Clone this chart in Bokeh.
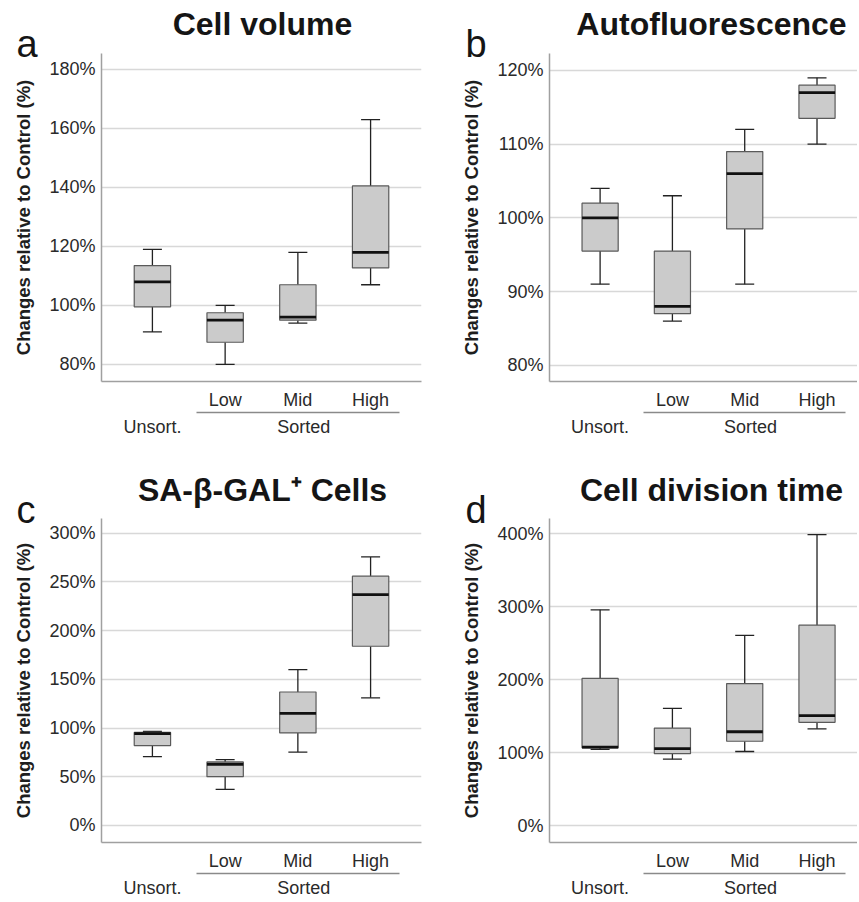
from bokeh.plotting import figure
from bokeh.layouts import column, row
from bokeh.models import (FixedTicker, LinearAxis, PrintfTickFormatter, Label,
                          Range1d, ColumnDataSource)
from bokeh.embed import file_html
from bokeh.resources import INLINE

# ---------------- data ----------------
categories = ["Unsort.", "Low", "Mid", "High"]
group_labels = ["Unsort.", "Sorted"]
group_centers = [1, 3.08]

panel_letters = ["a", "b", "c", "d"]
panel_titles = ["Cell volume", "Autofluorescence",
                "SA-\u03b2-GAL\u207a Cells", "Cell division time"]
y_title = "Changes relative to Control (%)"

# Cell volume (%)
vol_lo = [91, 80, 94, 107]
vol_q1 = [99.5, 87.5, 95, 112.7]
vol_med = [108, 95, 96, 118]
vol_q3 = [113.5, 97.5, 107, 140.5]
vol_hi = [119, 100, 118, 163]
vol_ticks = [80, 100, 120, 140, 160, 180]

# Autofluorescence (%)
af_lo = [91, 86, 91, 110]
af_q1 = [95.5, 87, 98.5, 113.5]
af_med = [100, 88, 106, 117]
af_q3 = [102, 95.5, 109, 118]
af_hi = [104, 103, 112, 119]
af_ticks = [80, 90, 100, 110, 120]

# SA-beta-GAL+ cells (%)
sa_lo = [70.6, 37, 75.3, 131]
sa_q1 = [82, 50, 95, 184]
sa_med = [94.3, 62.8, 115, 237]
sa_q3 = [95.5, 65.2, 137, 256]
sa_hi = [96.5, 67.6, 160, 275.7]
sa_ticks = [0, 50, 100, 150, 200, 250, 300]

# Cell division time (%)
dt_lo = [105, 91.5, 102, 133]
dt_q1 = [107, 99, 116, 142]
dt_med = [108, 106, 129, 151]
dt_q3 = [202, 134, 195, 275]
dt_hi = [296, 161, 261, 399]
dt_ticks = [0, 100, 200, 300, 400]

FONT = "Liberation Sans"
TXT = "#1e1e1e"
LAB = "#2a2a2a"

# geometry (pixels)
LEFT_A, FW_A, RIGHT_A = 101, 320, 17
LEFT_B, FW_B, RIGHT_B = 111, 308, 0
W_A = LEFT_A + FW_A + RIGHT_A
W_B = LEFT_B + FW_B + RIGHT_B
TOTAL_W = W_A + W_B
OVERLAP = 13


def panel(lo, q1, med, q3, hi, y_ticks, y_start, y_end,
          x_end, fw, fh, left, right, bottom):
    p = figure(width=left + fw + right, height=fh + bottom,
               x_range=Range1d(0.3, x_end), y_range=Range1d(y_start, y_end),
               output_backend="svg", toolbar_location=None,
               min_border_left=left, min_border_right=right,
               min_border_top=0, min_border_bottom=bottom)
    p.outline_line_color = None
    p.border_fill_color = None          # lets the header band show through
    p.background_fill_color = "white"

    xs = list(range(1, len(categories) + 1))
    half = 0.25
    src = ColumnDataSource(dict(x=xs, lo=lo, q1=q1, med=med, q3=q3, hi=hi,
                                x0=[x - half for x in xs],
                                x1=[x + half for x in xs]))

    # y axis and grid
    yt = FixedTicker(ticks=y_ticks)
    ax = p.yaxis[0]
    ax.ticker = yt
    ax.formatter = PrintfTickFormatter(format="%d%%")
    ax.axis_label = y_title
    ax.axis_label_text_font = FONT
    ax.axis_label_text_font_style = "bold"
    ax.axis_label_text_font_size = "18.5px"
    ax.axis_label_text_color = TXT
    ax.axis_label_standoff = 12
    ax.major_label_text_font = FONT
    ax.major_label_text_font_size = "18px"
    ax.major_label_text_color = LAB
    ax.major_label_standoff = 6
    ax.major_tick_out = 0
    ax.major_tick_in = 0
    ax.major_tick_line_color = None
    ax.minor_tick_line_color = None
    ax.axis_line_color = "#a0a0a0"
    ax.axis_line_width = 1.5
    p.ygrid.ticker = yt
    p.ygrid.grid_line_color = "#d8d8d8"
    p.ygrid.grid_line_width = 1.5
    p.xgrid.visible = False

    # x axis 1: sub categories
    bx = p.xaxis[0]
    bx.ticker = FixedTicker(ticks=xs[1:])
    bx.major_label_overrides = {x: c for x, c in zip(xs[1:], categories[1:])}
    bx.major_label_text_font = FONT
    bx.major_label_text_font_size = "18px"
    bx.major_label_text_color = LAB
    bx.major_label_standoff = 8
    bx.major_tick_out = 0
    bx.major_tick_in = 0
    bx.major_tick_line_color = None
    bx.minor_tick_line_color = None
    bx.axis_line_color = "#a0a0a0"
    bx.axis_line_width = 1.5

    # x axis 2: separator under the sorted group
    sep = LinearAxis(ticker=FixedTicker(ticks=[]), bounds=(1.6, 4.4),
                     axis_line_color="#8a8a8a", axis_line_width=1.3,
                     major_tick_out=0, major_tick_in=0,
                     major_tick_line_color=None, minor_tick_line_color=None,
                     major_label_text_font_size="0px")
    p.add_layout(sep, "below")

    # x axis 3: group labels
    gx = LinearAxis(ticker=FixedTicker(ticks=group_centers),
                    major_label_overrides={g: t for g, t in zip(group_centers, group_labels)},
                    axis_line_color=None, major_tick_line_color=None,
                    major_tick_out=0, major_tick_in=0,
                    minor_tick_line_color=None, major_label_standoff=4,
                    major_label_text_font=FONT, major_label_text_font_size="18px",
                    major_label_text_color=LAB)
    p.add_layout(gx, "below")

    # boxes
    p.segment(x0="x", y0="q3", x1="x", y1="hi", line_color="#222222",
              line_width=1.3, source=src)
    p.segment(x0="x", y0="lo", x1="x", y1="q1", line_color="#222222",
              line_width=1.3, source=src)
    p.scatter(x="x", y="hi", marker="dash", size=19, line_color="#222222",
              line_width=1.3, source=src)
    p.scatter(x="x", y="lo", marker="dash", size=19, line_color="#222222",
              line_width=1.3, source=src)
    p.vbar(x="x", width=2 * half, bottom="q1", top="q3", fill_color="#cbcbcb",
           line_color="#5a5a5a", line_width=1.2, source=src)
    p.segment(x0="x0", y0="med", x1="x1", y1="med", line_color="#111111",
              line_width=2.8, source=src)
    return p


def strip(height, letters, titles, title_y, letter_y):
    """Header band holding the panel letters and titles (as real text)."""
    s = figure(width=TOTAL_W, height=height, x_range=Range1d(0, TOTAL_W),
               y_range=Range1d(0, height), output_backend="svg",
               toolbar_location=None, x_axis_location=None,
               y_axis_location=None, min_border=0)
    s.outline_line_color = None
    s.xgrid.visible = False
    s.ygrid.visible = False
    s.margin = (0, 0, -OVERLAP, 0)      # band tucks under the panel's top border
    frame_lefts = [LEFT_A, W_A + LEFT_B]
    frame_ws = [FW_A, FW_B]
    title_dx = [1, 8]
    letter_dx = [-85, -84]
    for i in range(2):
        s.add_layout(Label(x=frame_lefts[i] + frame_ws[i] / 2 + title_dx[i],
                           y=title_y, x_units="screen", y_units="screen",
                           text=titles[i], text_align="center",
                           text_baseline="middle", text_font=FONT,
                           text_font_style="bold", text_font_size="32px",
                           text_color="#151515"))
        s.add_layout(Label(x=frame_lefts[i] + letter_dx[i], y=letter_y,
                           x_units="screen", y_units="screen",
                           text=letters[i], text_align="left",
                           text_baseline="middle", text_font=FONT,
                           text_font_size="38px", text_color="#151515"))
    return s


FH1, FH2 = 328, 326
XE_A = 4.7
XE_B = 4.56

s1 = strip(53 + OVERLAP, panel_letters[0:2], panel_titles[0:2], 43, 23)
pa = panel(vol_lo, vol_q1, vol_med, vol_q3, vol_hi, vol_ticks, 74.2, 185.4,
           XE_A, FW_A, FH1, LEFT_A, RIGHT_A, 88)
pb = panel(af_lo, af_q1, af_med, af_q3, af_hi, af_ticks, 77.8, 122.3,
           XE_B, FW_B, FH1, LEFT_B, RIGHT_B, 88)
s2 = strip(49 + OVERLAP, panel_letters[2:4], panel_titles[2:4], 42, 22)
pc = panel(sa_lo, sa_q1, sa_med, sa_q3, sa_hi, sa_ticks, -17.6, 315.2,
           XE_A, FW_A, FH2, LEFT_A, RIGHT_A, 56)
pd_ = panel(dt_lo, dt_q1, dt_med, dt_q3, dt_hi, dt_ticks, -22.6, 421,
            XE_B, FW_B, FH2, LEFT_B, RIGHT_B, 56)

layout = column(s1, row(pa, pb, spacing=0), s2, row(pc, pd_, spacing=0),
                spacing=0)
open("out.html", "w").write(file_html(layout, INLINE))
